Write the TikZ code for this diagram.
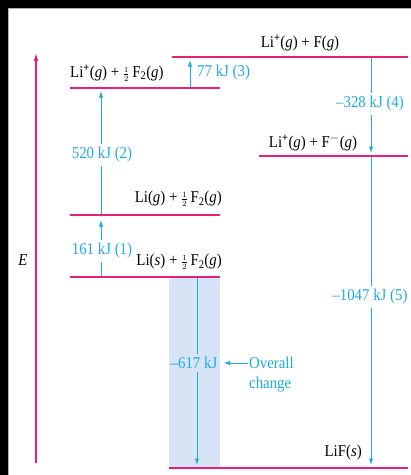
\documentclass[tikz,border=0pt]{standalone}
\usepackage{fontspec}
\setmainfont{Liberation Serif}[FakeStretch=0.9]
\usetikzlibrary{arrows.meta}
\definecolor{lvl}{RGB}{232,30,120}
\definecolor{arr}{RGB}{30,170,230}
\definecolor{shadebg}{RGB}{214,228,246}
\newcommand\hf{{\fontsize{12}{12}\selectfont$\frac{1}{2}$}\,}
\newcommand\ig{\textit{g}}
\newcommand\is{\textit{s}}
\newcommand\pl{\textsuperscript{\textbf{+}}}
\begin{document}
\begin{tikzpicture}[x=1pt,y=-1pt,
  level/.style={draw=lvl, line width=2.8pt},
  flow/.style={draw=arr, line width=1pt, -{Latex[length=6.5pt,width=4.5pt]}},
  plain/.style={draw=arr, line width=1pt},
  lab/.style={text=arr, font=\fontsize{16.5}{18}\selectfont, inner sep=3pt},
  chem/.style={font=\fontsize{16.5}{18}\selectfont, inner sep=1pt}]

\useasboundingbox (0,0) rectangle (411,475);
\fill[white] (0,0) rectangle (411,475);
\fill[black] (0,0) rectangle (411,8);
\fill[black] (0,0) rectangle (8,475);
\draw[gray!60, line width=0.8pt] (8.5,475) -- (8.5,8.5) -- (411,8.5);

% shaded overall column
\fill[shadebg] (169,277) rectangle (220,468);

% energy axis
\coordinate (ax0) at (36,463);
\coordinate (ax1) at (36,53);
\draw[draw=lvl, line width=1.3pt, -{Latex[length=8pt,width=5pt]}] (ax0) -- (ax1);
\node[chem, font=\fontsize{16.5}{18}\selectfont\itshape] (E) at (23,260) {E};

% level endpoints
\coordinate (A1) at (70,277);  \coordinate (A2) at (220,277);
\coordinate (B1) at (70,215);  \coordinate (B2) at (220,215);
\coordinate (C1) at (70,88);   \coordinate (C2) at (220,88);
\coordinate (D1) at (172,57);  \coordinate (D2) at (408,57);
\coordinate (G1) at (259,156); \coordinate (G2) at (408,156);
\coordinate (F1) at (169,468); \coordinate (F2) at (408,468);

% arrows: start/end points
\coordinate (a1s) at (101,277); \coordinate (a1e) at (101,220);
\coordinate (a2s) at (101,215); \coordinate (a2e) at (101,91);
\coordinate (a3s) at (190,88);  \coordinate (a3e) at (190,60);
\coordinate (a4s) at (371,57);  \coordinate (a4e) at (371,153);
\coordinate (a5s) at (371,156); \coordinate (a5e) at (371,465);
\coordinate (a6s) at (197,277); \coordinate (a6e) at (197,465);

% labels on arrows
\node[lab] (l1) at (102,251) {161 kJ (1)};
\node[lab] (l2) at (102,155) {520 kJ (2)};
\node[lab, anchor=west, inner sep=1pt] (l3) at (196,73) {77 kJ (3)};
\node[lab] (l4) at (370,104) {–328 kJ (4)};
\node[lab] (l5) at (370,297) {–1047 kJ (5)};
\node[lab] (l6) at (194,363) {–617 kJ};
\node[lab, anchor=west, inner sep=1pt] (ov1) at (248,363) {Overall};
\node[lab, anchor=west, inner sep=1pt] (ov2) at (248,385) {change};

% arrows
\draw[plain] (a1s) -- (a1s |- l1.south);
\draw[flow] (a1s |- l1.north) -- (a1e);
\draw[plain] (a2s) -- (a2s |- l2.south);
\draw[flow] (a2s |- l2.north) -- (a2e);
\draw[flow] (a3s) -- (a3e);
\draw[plain] (a4s) -- (a4s |- l4.north);
\draw[flow] (a4s |- l4.south) -- (a4e);
\draw[plain] (a5s) -- (a5s |- l5.north);
\draw[flow] (a5s |- l5.south) -- (a5e);
\draw[plain] (a6s) -- (a6s |- l6.north);
\draw[flow] (a6s |- l6.south) -- (a6e);
\draw[flow, shorten >=3pt] (ov1.west) -- (l6.east);

% levels
\draw[level] (A1) -- (A2);
\draw[level] (B1) -- (B2);
\draw[level] (C1) -- (C2);
\draw[level] (D1) -- (D2);
\draw[level] (G1) -- (G2);
\draw[level] (F1) -- (F2);

% species labels
\node[chem] (tD) at (300,43) {Li\pl(\ig) + F(\ig)};
\node[chem, anchor=west] (tC) at (69,73) {Li\pl(\ig) + \hf F\textsubscript{2}(\ig)};
\node[chem] (tG) at (313,143) {Li\pl(\ig) + F$^{-}$(\ig)};
\node[chem, anchor=east] (tB) at (223,199) {Li(\ig) + \hf F\textsubscript{2}(\ig)};
\node[chem, anchor=east] (tA) at (223,262) {Li(\is) + \hf F\textsubscript{2}(\ig)};
\node[chem, anchor=east] (tF) at (363,453) {LiF(\is)};
\end{tikzpicture}
\end{document}
